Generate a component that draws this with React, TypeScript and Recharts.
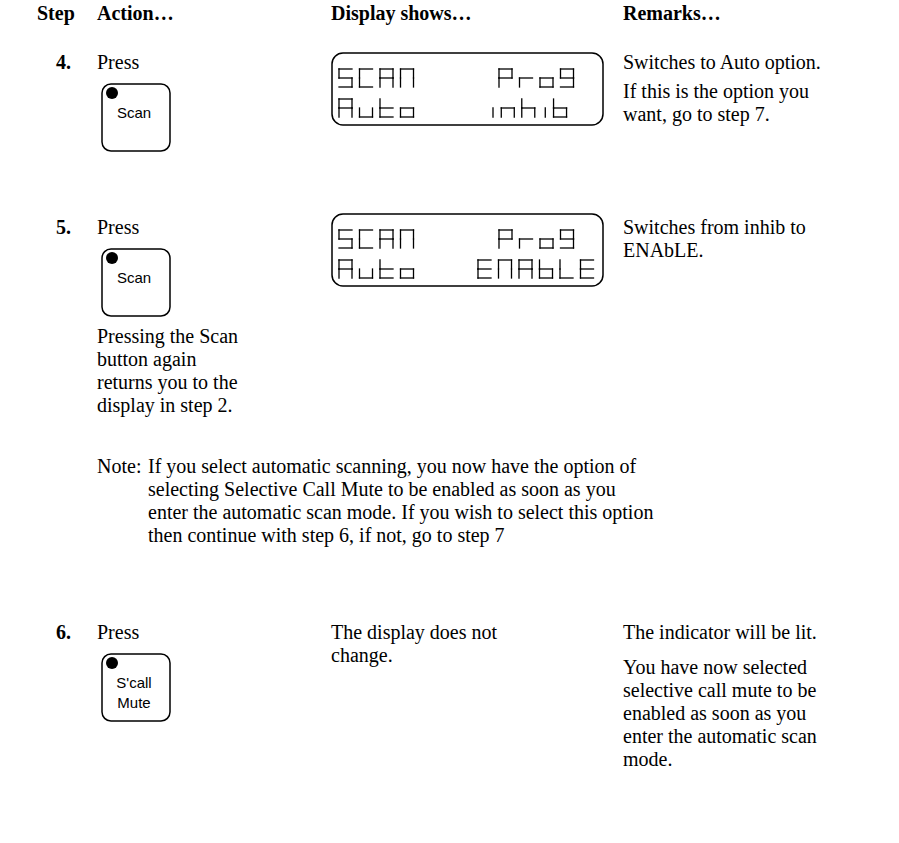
import { Surface, Layer, Rectangle, Dot } from 'recharts'

// column headings and step content
const HEADERS = ['Step', 'Action…', 'Display shows…', 'Remarks…']
const STEPS = ['4.', '5.', '6.']
const BUTTONS = [['Scan'], ['Scan'], ["S'call", 'Mute']]
const DISPLAY_LEFT = [['SCAN', 'Auto'], ['SCAN', 'Auto']]
const DISPLAY_RIGHT = [['prog', 'inhib'], ['prog', 'ENAbLE']]
const DISPLAY_TEXT_6 = ['The display does not', 'change.']
const PRESS_NOTE = ['Pressing the Scan', 'button again', 'returns you to the', 'display in step 2.']
const REMARKS = [
  [['Switches to Auto option.'], ['If this is the option you', 'want, go to step 7.']],
  [['Switches from inhib to', 'ENAbLE.']],
  [['The indicator will be lit.'], ['You have now selected', 'selective call mute to be', 'enabled as soon as you', 'enter the automatic scan', 'mode.']],
]
const NOTE_LINES = [
  'If you select automatic scanning, you now have the option of',
  'selecting Selective Call Mute to be enabled as soon as you',
  'enter the automatic scan mode. If you wish to select this option',
  'then continue with step 6, if not, go to step 7',
]

const W = 899
const H = 843
const SERIF = '"Liberation Serif", "Times New Roman", serif'
const SANS = '"Liberation Sans", Arial, sans-serif'
const FS = 20
const LH = 23
const PARA_GAP = [29, 29, 35]

const COL = { step: 37, action: 97, display: 331, remarks: 623 }
const ROW_Y = [69, 234, 639]
const DISPLAY_Y = [53, 214]

// seven-segment style glyphs: a top, b upper right, c lower right, d bottom, e lower left, f upper left, g middle
const SEGMENTS: Record<string, string> = {
  S: 'afgcd', C: 'afed', A: 'abcefg', N: 'abcef', p: 'abefg', r: 'eg', o: 'cdeg', g: 'abcdfg',
  u: 'cde', t: 'defg', n: 'ceg', h: 'cefg', b: 'cdefg', E: 'adefg', L: 'def', i: 'i',
}
const PITCH = 20.5
const GW = 13
const GH = 18

function Glyph({ ch, x, y }: { ch: string; x: number; y: number }) {
  const w = GW
  const h = GH
  const m = y + h / 2
  const seg: Record<string, [number, number, number, number]> = {
    a: [x, y, x + w, y],
    b: [x + w, y, x + w, m],
    c: [x + w, m, x + w, y + h],
    d: [x, y + h, x + w, y + h],
    e: [x, m, x, y + h],
    f: [x, y, x, m],
    g: [x, m, x + w, m],
    i: [x + 3, m, x + 3, y + h],
  }
  const list = (SEGMENTS[ch] || '').split('')
  return (
    <g>
      {list.map((s) => {
        const [x1, y1, x2, y2] = seg[s]
        return <line key={s} x1={x1} y1={y1} x2={x2} y2={y2} stroke="#000" strokeWidth={1.3} strokeLinecap="square" />
      })}
    </g>
  )
}

function SegWord({ text, x, y }: { text: string; x: number; y: number }) {
  let cx = x
  return (
    <g>
      {text.split('').map((ch, i) => {
        const node = <Glyph key={i} ch={ch} x={cx} y={y} />
        cx += ch === 'i' ? PITCH * 0.55 : PITCH
        return node
      })}
    </g>
  )
}

function Display({ y, left, right }: { y: number; left: string[]; right: string[] }) {
  const x = COL.display + 1
  const row2X = right[1] === 'inhib' ? x + 158 : x + 146
  return (
    <Layer>
      <Rectangle x={x} y={y} width={271} height={72} radius={11} fill="none" stroke="#000" strokeWidth={1.5} />
      <SegWord text={left[0]} x={x + 7} y={y + 16} />
      <SegWord text={left[1]} x={x + 7} y={y + 46} />
      <SegWord text={right[0]} x={x + 167} y={y + 16} />
      <SegWord text={right[1]} x={row2X} y={y + 46} />
    </Layer>
  )
}

function Button({ x, y, labels }: { x: number; y: number; labels: string[] }) {
  return (
    <Layer>
      <Rectangle x={x} y={y} width={68} height={67} radius={9} fill="none" stroke="#000" strokeWidth={1.5} />
      <Dot cx={x + 10} cy={y + 9} r={6} fill="#000" stroke="none" />
      {labels.map((l, i) => (
        <text key={l} x={x + 32} y={y + 34 + i * 20} textAnchor="middle" fontFamily={SANS} fontSize={15}>
          {l}
        </text>
      ))}
    </Layer>
  )
}

function Lines({ x, y, lines }: { x: number; y: number; lines: string[] }) {
  return (
    <>
      {lines.map((l, i) => (
        <text key={i} x={x} y={y + i * LH} fontFamily={SERIF} fontSize={FS}>
          {l}
        </text>
      ))}
    </>
  )
}

export default function App() {
  const headerX = [COL.step, COL.action, COL.display, COL.remarks]
  return (
    <div style={{ position: 'fixed', left: 0, top: 0, width: W, height: H, background: '#fff' }}>
      <Surface width={W} height={H}>
        {HEADERS.map((t, i) => (
          <text key={t} x={headerX[i]} y={20} fontFamily={SERIF} fontSize={FS} fontWeight="bold">
            {t}
          </text>
        ))}
        {STEPS.map((s, i) => (
          <Layer key={s}>
            <text x={COL.step + 19} y={ROW_Y[i]} fontFamily={SERIF} fontSize={FS} fontWeight="bold">
              {s}
            </text>
            <text x={COL.action} y={ROW_Y[i]} fontFamily={SERIF} fontSize={FS}>
              Press
            </text>
            <Button x={COL.action + 5} y={ROW_Y[i] + 15} labels={BUTTONS[i]} />
            {(() => {
              let yy = ROW_Y[i]
              return REMARKS[i].map((para, k) => {
                const node = <Lines key={k} x={COL.remarks} y={yy} lines={para} />
                yy += (para.length - 1) * LH + PARA_GAP[i]
                return node
              })
            })()}
          </Layer>
        ))}
        {DISPLAY_LEFT.map((d, i) => (
          <Display key={i} y={DISPLAY_Y[i]} left={d} right={DISPLAY_RIGHT[i]} />
        ))}
        <Lines x={COL.action} y={343} lines={PRESS_NOTE} />
        <text x={COL.action} y={473} fontFamily={SERIF} fontSize={FS}>
          Note:
        </text>
        <Lines x={148} y={473} lines={NOTE_LINES} />
        <Lines x={COL.display} y={ROW_Y[2]} lines={DISPLAY_TEXT_6} />
      </Surface>
    </div>
  )
}
